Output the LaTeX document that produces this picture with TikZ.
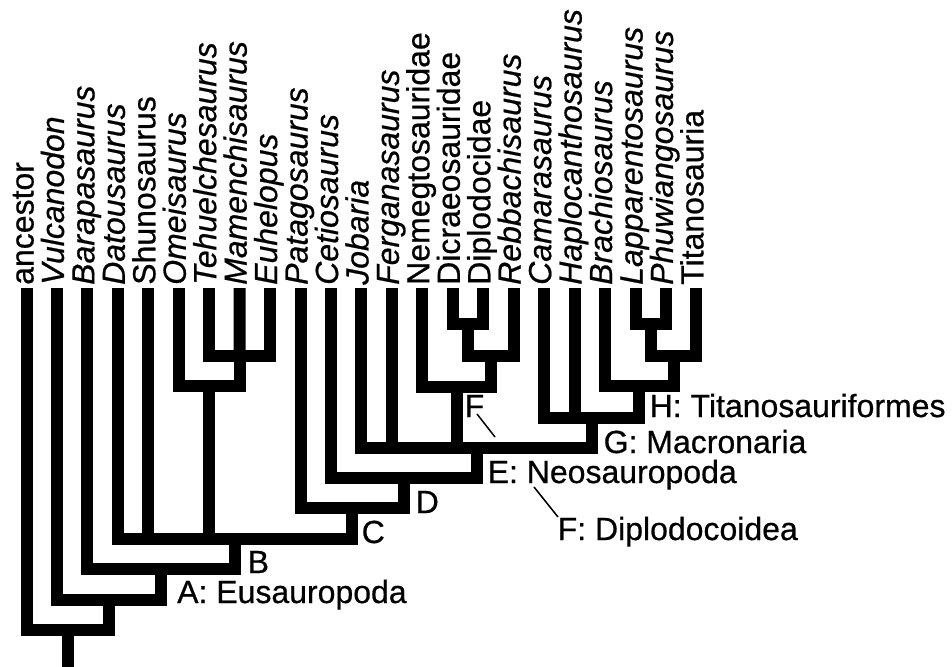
\documentclass[tikz,border=0pt]{standalone}
\usepackage{fontspec}
\setmainfont{Liberation Sans}[FakeBold=0.6]
\begin{document}
\begin{tikzpicture}[x=1pt,y=-1pt,
  branch/.style={line width=12pt, line cap=butt, line join=miter},
  taxon/.style={rotate=90, anchor=base west, inner sep=0pt, font=\fontsize{32}{36}\selectfont},
  clade/.style={anchor=base west, inner sep=0pt, font=\fontsize{32}{36}\selectfont},
  leader/.style={line width=1.5pt}]
\useasboundingbox (0,0) rectangle (952,666);
\fill[white] (0,0) rectangle (952,666);
% tips and their labels
\foreach \i/\lab in {0/ancestor, 1/\textit{Vulcanodon}, 2/\textit{Barapasaurus},
  3/\textit{Datousaurus}, 4/Shunosaurus, 5/\textit{Omeisaurus},
  6/\textit{Tehuelchesaurus}, 7/\textit{Mamenchisaurus}, 8/\textit{Euhelopus},
  9/\textit{Patagosaurus}, 10/\textit{Cetiosaurus}, 11/\textit{Jobaria},
  12/\textit{Ferganasaurus}, 13/Nemegtosauridae, 14/Dicraeosauridae,
  15/Diplodocidae, 16/\textit{Rebbachisaurus}, 17/\textit{Camarasaurus},
  18/\textit{Haplocanthosaurus}, 19/\textit{Brachiosaurus},
  20/\textit{Lapparentosaurus}, 21/\textit{Phuwiangosaurus}, 22/Titanosauria} {
  \pgfmathsetmacro\xx{26.5+30.45*\i}
  \coordinate (t\i) at (\xx,288);
  \node[taxon] (l\i) at (\xx+7,285) {\lab};
}
% internal nodes
\coordinate (nTME) at (239.65,356);
\coordinate (nOme) at (209.2,386);
\coordinate (nDD) at (468.0,324);
\coordinate (nDR) at (490.85,356);
\coordinate (nF) at (456.6,386.5);
\coordinate (nLP) at (650.7,324);
\coordinate (nLPT) at (673.6,356);
\coordinate (nH) at (639.3,386);
\coordinate (nG) at (591.7,417.5);
\coordinate (nE) at (476.6,447.5);
\coordinate (nX) at (403.8,477.5);
\coordinate (nD) at (352.2,507.5);
\coordinate (nC) at (235,539);
\coordinate (nB) at (161.2,569);
\coordinate (nA) at (109.1,600);
\coordinate (nR) at (67.8,630);
\coordinate (base) at (67.8,680);
% branches
\draw[branch] (t6) |- (nTME) -| (t8);
\draw[branch] (t7) -- (nTME);
\draw[branch] (t5) |- (nOme) -| (nTME);
\draw[branch] (t14) |- (nDD) -| (t15);
\draw[branch] (nDD) |- (nDR) -| (t16);
\draw[branch] (t13) |- (nF) -| (nDR);
\draw[branch] (t20) |- (nLP) -| (t21);
\draw[branch] (nLP) |- (nLPT) -| (t22);
\draw[branch] (t19) |- (nH) -| (nLPT);
\draw[branch] (t17) |- (nG) -| (nH);
\draw[branch] (t18) -- (t18 |- nG);
\draw[branch] (t11) |- (nE) -| (nG);
\draw[branch] (t12) -- (t12 |- nE);
\draw[branch] (nF) -- (nF |- nE);
\draw[branch] (t10) |- (nX) -| (nE);
\draw[branch] (t9) |- (nD) -| (nX);
\draw[branch] (t3) |- (nC) -| (nD);
\draw[branch] (t4) -- (t4 |- nC);
\draw[branch] (nOme) -- (nOme |- nC);
\draw[branch] (t2) |- (nB) -| (nC);
\draw[branch] (t1) |- (nA) -| (nB);
\draw[branch] (t0) |- (nR) -| (nA);
\draw[branch] (nR) -- (base);
% clade labels
\node[clade] (labA) at (177,603) {A: Eusauropoda};
\node[clade] (labB) at (247.5,573) {B};
\node[clade] (labC) at (361.5,543) {C};
\node[clade] (labD) at (415.5,513) {D};
\node[clade] (labE) at (487.5,483) {E: Neosauropoda};
\node[clade] (labFs) at (464.5,417) {F};
\node[clade] (labF) at (557.5,540) {F: Diplodocoidea};
\node[clade] (labG) at (603.5,453) {G: Macronaria};
\node[clade] (labH) at (649.5,417) {H: Titanosauriformes};
% leader lines
\coordinate (fl1) at (477,414);
\coordinate (fl2) at (495,437);
\draw[leader] (fl1) -- (fl2);
\coordinate (dl1) at (534,487);
\coordinate (dl2) at (558,517);
\draw[leader] (dl1) -- (dl2);
\end{tikzpicture}
\end{document}
